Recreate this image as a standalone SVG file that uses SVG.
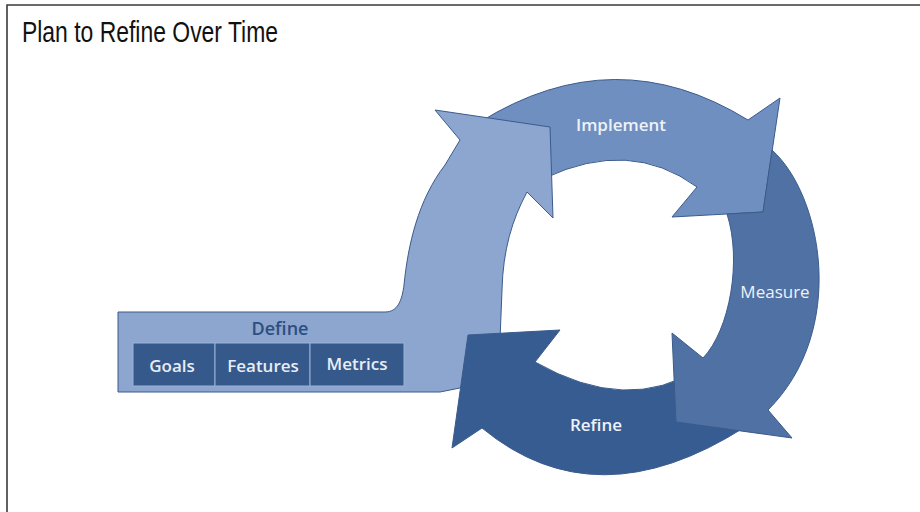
<svg xmlns="http://www.w3.org/2000/svg" width="920" height="512" viewBox="0 0 920 512">
<style>
.frame{fill:none;stroke:#3a3a3a;stroke-width:1.6}
.title{font-family:"Liberation Sans Narrow","Liberation Sans",Arial,sans-serif;font-size:29px;fill:#111}
.arr{stroke:#3b5b8c;stroke-width:1;stroke-linejoin:miter}
.lbl{font-family:"Open Sans","Noto Sans",sans-serif;font-weight:600;font-size:17px;fill:#eef2f8;text-anchor:middle}
.box{fill:#36598b;stroke:#9bb2d6;stroke-width:1}
.boxt{font-family:"Open Sans","Noto Sans",sans-serif;font-weight:600;font-size:17px;fill:#e8edf5;text-anchor:middle}
</style>
<rect width="920" height="512" fill="#ffffff"/>
<path class="frame" d="M7 512 V5 H920"/>
<text class="title" x="22" y="42" textLength="256" lengthAdjust="spacingAndGlyphs">Plan to Refine Over Time</text>

<g id="connectors">
<g id="implement">
<path class="arr" fill="#6f8fc0" d="M470 130 L480 122 Q615 38 748 120 L780 98 L763 212 L672 217 L697 187 Q630 138 545 178 L540 180 Z"/>
<text class="lbl" x="621" y="131">Implement</text>
</g>
<g id="define">
<path class="arr" fill="#8da6cf" d="M118 312 L385 312 C398 312 402 300 404 285 C408 245 418 200 445 165 L460 140 L435 110 L550 127 L553 218 L527 192 C512 220 503 250 502 290 L500 340 C498 372 482 384 455 389 L440 392 L118 392 Z"/>
<text x="280" y="335" style="font-family:'Open Sans','Noto Sans',sans-serif;font-weight:600;font-size:18px;fill:#2d4e80;text-anchor:middle">Define</text>
<g id="goals"><rect class="box" x="133" y="343" width="82" height="43"/><text class="boxt" x="172" y="372">Goals</text></g>
<g id="features"><rect class="box" x="215" y="343" width="95" height="43"/><text class="boxt" x="263" y="372">Features</text></g>
<g id="metrics"><rect class="box" x="310" y="343" width="94" height="43"/><text class="boxt" x="357" y="370">Metrics</text></g>
</g>
<g id="refine">
<path class="arr" fill="#375c92" d="M468 335 L560 330 L535 362 Q628 415 700 368 L745 427 Q596 522 482 428 L452 448 Z"/>
<text class="lbl" x="596" y="431">Refine</text>
</g>
<g id="measure">
<path class="arr" fill="#4f71a4" d="M772 150 C822 195 848 330 768 410 L792 438 L676 422 L672 333 L703 358 C730 330 742 260 727 214 L763 212 Z"/>
<text class="lbl" x="775" y="298" style="font-weight:400">Measure</text>
</g>
</g>
</svg>
